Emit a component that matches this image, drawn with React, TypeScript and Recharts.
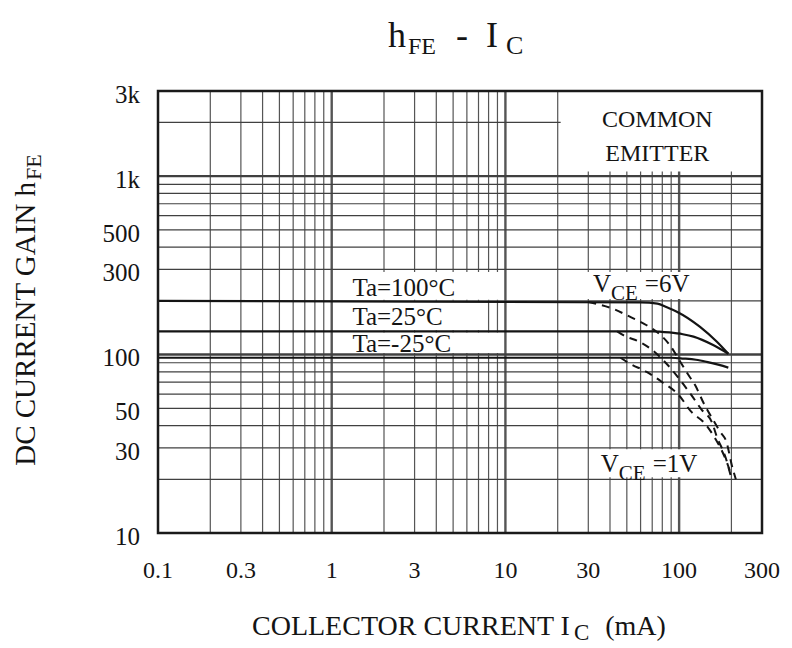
import React from "react";
import {
  LineChart,
  Line,
  XAxis,
  YAxis,
  ReferenceLine,
  ReferenceArea,
} from "recharts";

const FONT = '"Liberation Serif", "Times New Roman", serif';
const INK = "#141414";

// axis ticks
const xTicks = [0.1, 0.3, 1, 3, 10, 30, 100, 300];
const yTicks = [10, 30, 50, 100, 300, 500, 1000, 3000];

// log grid, 1..9 in every decade
const mantissas = [1, 2, 3, 4, 5, 6, 7, 8, 9];
const xDecades = [0.1, 1, 10, 100];
const yDecades = [10, 100, 1000];
const xGrid = xDecades
  .flatMap((d) => mantissas.map((m) => +(m * d).toPrecision(3)))
  .filter((v) => v > 0.1 && v < 300);
const yGrid = yDecades
  .flatMap((d) => mantissas.map((m) => +(m * d).toPrecision(3)))
  .filter((v) => v > 10 && v < 3000);
const isDecade = (v: number) => Math.abs(Math.log10(v) - Math.round(Math.log10(v))) < 1e-6;

// VCE = 6V (solid)
const ic6_100 = [0.1, 60, 75, 85, 97, 132, 165, 192];
const hfe6_100 = [200, 196, 193, 184, 174, 143, 118, 101];
const ic6_25 = [0.1, 70, 88, 105, 121, 157, 192];
const hfe6_25 = [135, 135, 133, 130, 126, 113, 101];
const ic6_m25 = [0.1, 90, 106, 125, 144, 170, 192];
const hfe6_m25 = [96, 96, 95, 93.5, 91, 87.5, 84.5];

// VCE = 1V (dashed)
const ic1_100 = [30, 42, 52, 65, 78, 89, 99, 111, 124, 139, 157, 172, 188, 201, 212];
const hfe1_100 = [197, 180, 163, 146, 129, 112, 95, 79, 67, 53, 43, 37, 32, 24, 20];
const ic1_25 = [44, 48, 59, 70, 81, 93, 106, 118, 135, 154, 166, 184, 198];
const hfe1_25 = [135, 128, 118, 106, 93, 80, 68, 59, 49, 42, 34, 27, 21];
const ic1_m25 = [46, 52, 65, 80, 100, 117, 141, 161, 176, 188, 200];
const hfe1_m25 = [96, 89, 80, 70, 59, 48, 41, 34, 29, 25, 21];

const pts = (ic: number[], hfe: number[]) => ic.map((x, i) => ({ ic: x, hfe: hfe[i] }));

const solid = [pts(ic6_100, hfe6_100), pts(ic6_25, hfe6_25), pts(ic6_m25, hfe6_m25)];
const dashed = [pts(ic1_100, hfe1_100), pts(ic1_25, hfe1_25), pts(ic1_m25, hfe1_m25)];

const fmtY = (v: number) => (v >= 1000 ? `${v / 1000}k` : `${v}`);

function TaText({ viewBox, text, base }: any) {
  const { x, y } = viewBox;
  return (
    <text x={x + 17} y={y + base} fontSize={25} fontFamily={FONT} fill={INK}>
      {text}
    </text>
  );
}

function VceText({ viewBox, v, dx, base }: any) {
  const { x, y } = viewBox;
  return (
    <text x={x + dx} y={y + base} fontSize={25} fontFamily={FONT} fill={INK}>
      V
      <tspan fontSize={21} dy={8}>CE</tspan>
      <tspan dy={-8} dx={7}>={v}</tspan>
    </text>
  );
}

function CommonText({ viewBox }: any) {
  const { x, y, width } = viewBox;
  const cx = x + width / 2 - 4;
  return (
    <text fontSize={24} fontFamily={FONT} fill={INK} textAnchor="middle">
      <tspan x={cx} y={y + 36}>COMMON</tspan>
      <tspan x={cx} y={y + 70}>EMITTER</tspan>
    </text>
  );
}

export default function App() {
  return (
    <div style={{ position: "absolute", left: 0, top: 0, width: 792, height: 648, background: "#fff" }}>
      <LineChart
        width={792}
        height={648}
        margin={{ top: 91, right: 30, bottom: 55, left: 88 }}
        style={{ fontFamily: FONT }}
      >
        <XAxis
          dataKey="ic"
          type="number"
          scale="log"
          domain={[0.1, 300]}
          allowDataOverflow
          ticks={xTicks}
          interval={0}
          height={60}
          tickLine={false}
          axisLine={false}
          tickMargin={22}
          tick={{ fill: INK, fontSize: 24, fontFamily: FONT }}
        />
        <YAxis
          type="number"
          scale="log"
          domain={[10, 3000]}
          allowDataOverflow
          ticks={yTicks}
          interval={0}
          width={70}
          tickLine={false}
          axisLine={false}
          tickMargin={12}
          tickFormatter={fmtY}
          tick={{ fill: INK, fontSize: 25, fontFamily: FONT, dy: 3 }}
        />

        {xGrid.map((v) => (
          <ReferenceLine
            key={`x${v}`}
            x={v}
            stroke="#555"
            strokeWidth={isDecade(v) ? 2.4 : 1.2}
            zIndex={50}
          />
        ))}
        {yGrid.map((v) => (
          <ReferenceLine
            key={`y${v}`}
            y={v}
            stroke="#404040"
            strokeWidth={isDecade(v) ? 2.4 : 1.2}
            zIndex={50}
          />
        ))}

        {/* white annotation boxes */}
        <ReferenceArea
          x1={20.8}
          x2={300}
          y1={1060}
          y2={3000}
          fill="#fff"
          fillOpacity={1}
          stroke="none"
          zIndex={150}
          label={<CommonText />}
        />
        <ReferenceArea x1={1.05} x2={9.5} y1={203} y2={290} fill="#fff" fillOpacity={1} stroke="none" zIndex={150}
          label={<TaText text="Ta=100°C" base={24} />} />
        <ReferenceArea x1={1.05} x2={7.5} y1={137} y2={197} fill="#fff" fillOpacity={1} stroke="none" zIndex={150}
          label={<TaText text="Ta=25°C" base={23} />} />
        <ReferenceArea x1={1.05} x2={9.5} y1={102} y2={133} fill="#fff" fillOpacity={1} stroke="none" zIndex={150}
          label={<TaText text="Ta=-25°C" base={20} />} />
        <ReferenceArea x1={22} x2={190} y1={205} y2={290} fill="#fff" fillOpacity={1} stroke="none" zIndex={150}
          label={<VceText v="6V" dx={28} base={20} />} />
        <ReferenceArea x1={31} x2={185} y1={20.5} y2={29.5} fill="#fff" fillOpacity={1} stroke="none" zIndex={150}
          label={<VceText v="1V" dx={10} base={23} />} />

        {solid.map((d, i) => (
          <Line
            key={`s${i}`}
            data={d}
            dataKey="hfe"
            type="monotone"
            stroke={INK}
            strokeWidth={2.2}
            dot={false}
            activeDot={false}
            isAnimationActive={false}
            zIndex={400}
          />
        ))}
        {dashed.map((d, i) => (
          <Line
            key={`d${i}`}
            data={d}
            dataKey="hfe"
            type="monotone"
            stroke={INK}
            strokeWidth={2}
            strokeDasharray="8 6"
            dot={false}
            activeDot={false}
            isAnimationActive={false}
            zIndex={400}
          />
        ))}

        {/* plot frame */}
        <ReferenceArea
          x1={0.1}
          x2={300}
          y1={10}
          y2={3000}
          fill="none"
          fillOpacity={0}
          stroke="#1a1a1a"
          strokeWidth={2.5}
          zIndex={450}
        />
      </LineChart>

      <svg
        width={792}
        height={648}
        style={{ position: "absolute", left: 0, top: 0, pointerEvents: "none" }}
        fontFamily={FONT}
        fill={INK}
      >
        <text x={388} y={47} fontSize={36}>
          h<tspan fontSize={24} dy={7} dx={2}>FE</tspan>
          <tspan dy={-7} dx={20}>-</tspan>
          <tspan dx={18}>I</tspan>
          <tspan fontSize={26} dy={7} dx={8}>C</tspan>
        </text>
        <text x={252} y={635} fontSize={28}>
          COLLECTOR CURRENT I<tspan fontSize={23} dy={5} dx={4}>C</tspan>
          <tspan dy={-5} dx={16}>(mA)</tspan>
        </text>
        <text
          transform="translate(35 310) rotate(-90)"
          fontSize={29}
          textAnchor="middle"
        >
          DC CURRENT GAIN h<tspan fontSize={22} dy={6} dx={2}>FE</tspan>
        </text>
      </svg>
    </div>
  );
}
